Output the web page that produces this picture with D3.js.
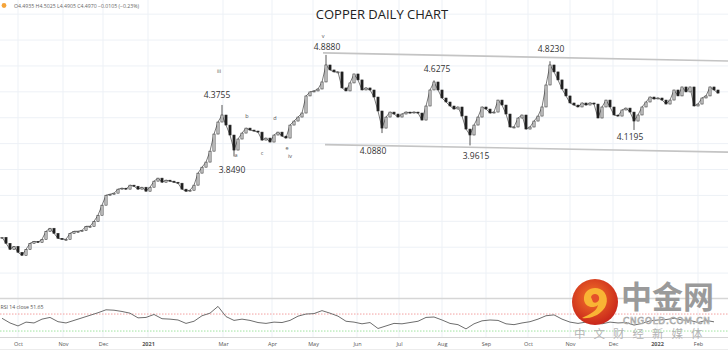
<!DOCTYPE html>
<html lang="en">
<head>
<meta charset="UTF-8">
<title>Copper Daily Chart</title>
<script src="https://d3js.org/d3.v7.min.js"></script>
<style>
  body { margin: 0; background: #fff; }
  svg { display: block; font-family: "Open Sans", sans-serif; }
</style>
</head>
<body>
<div id="chart"></div>
<script>
// daily closes (one bar = two sessions), Sep 2020 -> Feb 2022
var closes = [
  3.021, 2.960, 2.898, 2.929, 2.868, 2.837, 2.898, 2.960, 2.980, 2.970,
  3.001, 3.083, 3.114, 3.062, 3.011, 3.001, 3.001, 3.062, 3.083, 3.083,
  3.093, 3.134, 3.134, 3.185, 3.247, 3.350, 3.452, 3.462, 3.473, 3.514,
  3.524, 3.514, 3.555, 3.544, 3.514, 3.534, 3.493, 3.534, 3.596, 3.627,
  3.585, 3.606, 3.596, 3.585, 3.575, 3.514, 3.493, 3.503, 3.555, 3.678,
  3.739, 3.791, 3.903, 4.078, 4.201, 4.273, 4.170, 4.068, 3.914, 4.027,
  4.088, 4.139, 4.119, 4.109, 4.098, 4.016, 4.037, 3.996, 4.068, 4.098,
  4.057, 4.037, 4.170, 4.211, 4.252, 4.293, 4.468, 4.509, 4.519, 4.539,
  4.611, 4.785, 4.734, 4.714, 4.714, 4.550, 4.519, 4.601, 4.693, 4.632,
  4.529, 4.550, 4.529, 4.457, 4.314, 4.139, 4.252, 4.303, 4.283, 4.252,
  4.283, 4.303, 4.293, 4.303, 4.293, 4.221, 4.365, 4.529, 4.611, 4.529,
  4.447, 4.406, 4.365, 4.334, 4.355, 4.262, 4.129, 4.068, 4.170, 4.252,
  4.355, 4.334, 4.293, 4.303, 4.426, 4.375, 4.283, 4.150, 4.150, 4.242,
  4.273, 4.129, 4.150, 4.211, 4.262, 4.355, 4.580, 4.785, 4.714, 4.632,
  4.539, 4.468, 4.396, 4.375, 4.355, 4.396, 4.375, 4.396, 4.385, 4.242,
  4.355, 4.426, 4.355, 4.273, 4.262, 4.324, 4.344, 4.303, 4.211, 4.273,
  4.355, 4.406, 4.457, 4.437, 4.447, 4.426, 4.385, 4.426, 4.529, 4.468,
  4.560, 4.509, 4.560, 4.365, 4.385, 4.447, 4.468, 4.560, 4.529, 4.497
];

// swing highs / lows marked on the chart
var pivotBars   = [55, 58, 81, 95, 108, 117, 137, 158];
var pivotPrices = [4.3755, 3.8490, 4.8880, 4.0880, 4.6275, 3.9615, 4.8230, 4.1195];

// annotations: text, anchor bar, anchor price
var annText  = ["4.8880", "v", "4.3755", "iii", "3.8490", "a", "b", "c", "d", "e", "iv",
                "4.0880", "4.6275", "3.9615", "4.8230", "4.1195"];
var annBar   = [81.25, 80.25, 53.75, 54.25, 57.5, 58.5, 61.25, 65, 68.25, 71.25, 72,
                92.75, 108.75, 118.5, 137.25, 157];
var annPrice = [4.939, 5.062, 4.447, 4.703, 3.678, 3.842, 4.242, 3.862, 4.221, 3.914, 3.832,
                3.873, 4.714, 3.821, 4.919, 4.016];

// channel lines [bar, price] endpoints
var upperChannel = [[80.25, 4.9085], [181.5, 4.826]];
var lowerChannel = [[80.75, 3.970], [181.5, 3.893]];

// horizontal grid levels
var gridPrices = [2.655, 2.92, 3.185, 3.45, 3.715, 3.98, 4.245, 4.51, 4.775, 5.04, 5.305];

// month ticks
var monthLabels = ["Oct", "Nov", "Dec", "2021", "Mar", "Apr", "May", "Jun", "Jul", "Aug",
                   "Sep", "Oct", "Nov", "Dec", "2022", "Feb"];
var monthBars   = [4, 15.25, 25.25, 36.5, 55.25, 67.5, 77.75, 88.75, 99.25, 110,
                   121, 131.5, 142, 152.75, 163.75, 174];

// RSI 14, every second bar
var rsi = [
  60, 49, 42, 51, 49, 58, 62, 52, 49, 55, 61, 67, 73, 80, 79, 76, 72, 61, 62, 69,
  59, 58, 56, 48, 53, 66, 72, 88, 64, 55, 58, 55, 50, 48, 51, 50, 55, 65, 70, 71,
  78, 72, 65, 53, 51, 47, 50, 36, 42, 48, 47, 50, 53, 62, 63, 56, 48, 45, 35, 47,
  54, 56, 55, 47, 45, 49, 52, 58, 66, 68, 58, 51, 48, 51, 49, 47, 51, 49, 50, 44,
  48, 54, 56, 57, 60, 56, 55, 50, 55, 51.65
];
var rsiLevels = [70, 30];

var W = 728, H = 353;

var svg = d3.select("#chart").append("svg")
  .attr("width", W)
  .attr("height", H);

var x = d3.scaleLinear().domain([0, closes.length - 1]).range([2, 718]);
var y = d3.scaleLinear().domain([2.40, 5.45]).range([298, 0]);
var yr = d3.scaleLinear().domain([16, 103]).range([337, 300]);

// grid
svg.append("g").selectAll("line")
  .data(gridPrices).enter().append("line")
    .attr("x1", 0).attr("x2", W)
    .attr("y1", function(d) { return y(d); })
    .attr("y2", function(d) { return y(d); })
    .style("stroke", "#edf1f6")
    .style("stroke-width", 1);

svg.append("g").selectAll("line")
  .data(monthBars).enter().append("line")
    .attr("x1", function(d) { return x(d); })
    .attr("x2", function(d) { return x(d); })
    .attr("y1", 0).attr("y2", 337)
    .style("stroke", "#edf1f6")
    .style("stroke-width", 1);

// panel separators
svg.append("line").attr("x1", 0).attr("x2", W).attr("y1", 298.5).attr("y2", 298.5)
  .style("stroke", "#d6d6d6").style("stroke-width", 1.5);
svg.append("line").attr("x1", 0).attr("x2", W).attr("y1", 337.5).attr("y2", 337.5)
  .style("stroke", "#d6d6d6").style("stroke-width", 1);
svg.append("line").attr("x1", 0).attr("x2", W).attr("y1", 349.5).attr("y2", 349.5)
  .style("stroke", "#ececec").style("stroke-width", 1);

// channel lines
[upperChannel, lowerChannel].forEach(function(seg) {
  svg.append("line")
    .attr("x1", x(seg[0][0])).attr("y1", y(seg[0][1]))
    .attr("x2", x(seg[1][0])).attr("y2", y(seg[1][1]))
    .style("stroke", "#c4c4c4")
    .style("stroke-width", 1.6);
});

// thin trace through the closes, sits behind the candles like wicks
svg.append("path")
  .datum(closes)
  .attr("d", d3.line()
    .x(function(d, i) { return x(i); })
    .y(function(d) { return y(d); }))
  .style("fill", "none")
  .style("stroke", "#555")
  .style("stroke-width", 0.8);

// pivot wicks
svg.append("g").selectAll("line")
  .data(pivotBars).enter().append("line")
    .attr("x1", function(d) { return x(d); })
    .attr("x2", function(d) { return x(d); })
    .attr("y1", function(d, i) { return y(pivotPrices[i]); })
    .attr("y2", function(d) { return y(closes[d]); })
    .style("stroke", "#444")
    .style("stroke-width", 0.9);

// candles: open = previous close
var candles = closes.map(function(c, i) {
  return { i: i, open: i > 0 ? closes[i - 1] : c, close: c };
});

svg.append("g").selectAll("rect")
  .data(candles).enter().append("rect")
    .attr("x", function(d) { return x(d.i) - 1.1; })
    .attr("width", 2.2)
    .attr("y", function(d) { return y(Math.max(d.open, d.close)); })
    .attr("height", function(d) { return Math.max(1, Math.abs(y(d.open) - y(d.close))); })
    .style("fill", function(d) { return d.close >= d.open ? "#d4d4d4" : "#1e1e1e"; })
    .style("stroke", "#2a2a2a")
    .style("stroke-width", 0.55);

// annotations
svg.append("g").selectAll("text")
  .data(annText).enter().append("text")
    .attr("x", function(d, i) { return x(annBar[i]); })
    .attr("y", function(d, i) { return y(annPrice[i]); })
    .attr("text-anchor", "middle")
    .style("font-size", function(d) { return d.length > 3 ? "8.5px" : "5.5px"; })
    .style("fill", function(d) { return d.length > 3 ? "#333" : "#555"; })
    .text(function(d) { return d; });

// title
svg.append("text")
  .attr("x", 382).attr("y", 19)
  .attr("text-anchor", "middle")
  .style("font-size", "13px")
  .style("fill", "#222")
  .text("COPPER DAILY CHART");

// header
svg.append("circle").attr("cx", 4).attr("cy", 5.5).attr("r", 2.4).style("fill", "#f5a43a");
svg.append("text")
  .attr("x", 14).attr("y", 7.5)
  .style("font-size", "5.2px")
  .style("fill", "#666")
  .text("O4.4935  H4.5025  L4.4905  C4.4970  \u22120.0105 (\u22120.23%)");

// RSI panel
svg.append("g").selectAll("line")
  .data(rsiLevels).enter().append("line")
    .attr("x1", 0).attr("x2", W)
    .attr("y1", function(d) { return yr(d); })
    .attr("y2", function(d) { return yr(d); })
    .style("stroke", function(d) { return d > 50 ? "#f3a0a0" : "#9fe39f"; })
    .style("stroke-width", 1)
    .style("stroke-dasharray", "1.5,1.5");

svg.append("path")
  .datum(rsi)
  .attr("d", d3.line()
    .x(function(d, i) { return x(i * 2); })
    .y(function(d) { return yr(d); }))
  .style("fill", "none")
  .style("stroke", "#6e6e6e")
  .style("stroke-width", 1);

svg.append("text")
  .attr("x", 0.5).attr("y", 309)
  .style("font-size", "5.2px")
  .style("fill", "#555")
  .text("RSI 14 close  51.65");

// month axis
var axis = svg.append("g")
  .attr("transform", "translate(0,338)")
  .call(d3.axisBottom(x)
    .tickValues(monthBars)
    .tickSize(0)
    .tickPadding(4)
    .tickFormat(function(d, i) { return monthLabels[i]; }));
axis.select(".domain").remove();
axis.selectAll("text")
  .style("font-family", "Open Sans, sans-serif")
  .style("font-size", "5.5px")
  .style("fill", "#555")
  .style("font-weight", function(d, i) { return +monthLabels[i] ? "700" : "400"; });

// watermark
var defs = svg.append("defs");
var grad = defs.append("radialGradient").attr("id", "logoGrad").attr("cx", "45%").attr("cy", "40%").attr("r", "60%");
grad.append("stop").attr("offset", "0%").attr("stop-color", "#f4772a");
grad.append("stop").attr("offset", "100%").attr("stop-color", "#c9261b");

var logo = svg.append("g").attr("transform", "translate(595,302)");
logo.append("circle").attr("r", 23).style("fill", "url(#logoGrad)");
logo.append("path")
  .attr("d", "M-11,-2 C-12,-12 -2,-16 5,-13 C13,-10 14,2 8,8 C3,14 -6,17 -13,16 C-5,12 2,9 3,3 C-2,7 -10,5 -11,-2 Z")
  .style("fill", "#f9b434");
logo.append("path")
  .attr("d", "M-4,-5 C-3,-9 3,-9 4,-5 C5,-1 1,2 -2,0 Z")
  .style("fill", "#e4502a");

svg.append("text")
  .attr("x", 621).attr("y", 308)
  .style("font-family", "Noto Sans CJK SC")
  .style("font-weight", "700")
  .style("font-size", "31px")
  .style("fill", "#9a9a9a")
  .text("中金网");

svg.append("text")
  .attr("x", 623).attr("y", 323.8)
  .style("font-family", "DejaVu Sans, sans-serif")
  .style("font-size", "8.8px")
  .style("letter-spacing", "0.8px")
  .style("fill", "#fff")
  .style("stroke", "#a8a8a8")
  .style("stroke-width", 0.7)
  .text("CNGOLD.COM.CN");

svg.append("text")
  .attr("x", 574).attr("y", 337.5)
  .style("font-family", "Noto Sans CJK SC")
  .style("font-size", "11.5px")
  .style("letter-spacing", "8px")
  .style("fill", "#b4b4b4")
  .text("中文财经新媒体");
</script>
</body>
</html>
